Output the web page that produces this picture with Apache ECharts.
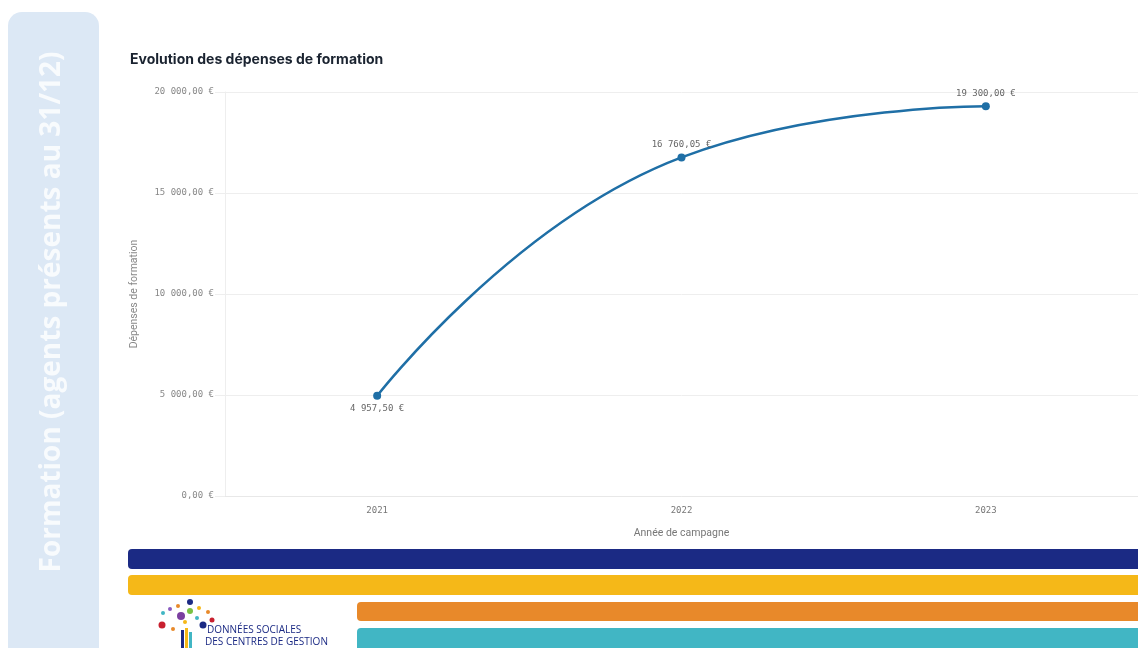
<!DOCTYPE html>
<html><head><meta charset="utf-8">
<script src="https://cdn.jsdelivr.net/npm/echarts@6/dist/echarts.min.js"></script>
<style>html,body{margin:0;padding:0;background:#fff}#c{width:1138px;height:648px}</style>
</head><body><div id="c"></div>
<script>
const categories = ['2021', '2022', '2023'];
const depenses = [4957.50, 16760.05, 19300.00];
const yTicks = [0, 5000, 10000, 15000, 20000];
const chartTitle = 'Evolution des dépenses de formation';
const yName = 'Dépenses de formation';
const xName = 'Année de campagne';
const panelText = 'Formation (agents présents au 31/12)';

function fmt(v) {
  const s = v.toFixed(2).split('.');
  const int = s[0].replace(/\B(?=(\d{3})+(?!\d))/g, '\u202f');
  return int + ',' + s[1] + '\u202f€';
}
const mono = 'DejaVu Sans Mono';
const chart = echarts.init(document.getElementById('c'));

const dots = [
  [190,602,3,'#1b2a84'],[178,606,2,'#e8892a'],[170,609,2,'#8a5cc0'],[163,613,2,'#41b6c4'],
  [181,616,4,'#7b3fa0'],[190,611,3,'#7ac143'],[199,608,2,'#f5b818'],[208,612,2,'#e8892a'],
  [197,618,2,'#41b6c4'],[212,620,2.5,'#c8202f'],[203,625,3.5,'#1b2a84'],[162,625,3.5,'#c8202f'],
  [173,629,2,'#e8892a'],[185,622,2,'#f5b818']
];
const logo = dots.map(d => ({type:'circle', shape:{cx:d[0], cy:d[1], r:d[2]}, style:{fill:d[3]}}));
logo.push(
  {type:'rect', shape:{x:181, y:630, width:3, height:20}, style:{fill:'#1b2a84'}},
  {type:'rect', shape:{x:185, y:628, width:3, height:22}, style:{fill:'#f5b818'}},
  {type:'rect', shape:{x:189, y:632, width:3, height:18}, style:{fill:'#41b6c4'}},
  {type:'text', style:{x:207, y:630, text:'DONNÉES SOCIALES', font:'10px "Open Sans"', fill:'#1b2a84', textVerticalAlign:'middle'}},
  {type:'text', style:{x:205, y:642, text:'DES CENTRES DE GESTION', font:'10px "Open Sans"', fill:'#1b2a84', textVerticalAlign:'middle'}}
);

chart.setOption({
  animation: false,
  title: {
    text: chartTitle, left: 125, top: 48,
    textStyle: {fontFamily: 'Inter', fontSize: 14, fontWeight: 'bold', color: '#1a2330'}
  },
  grid: {left: 225, right: -5, top: 92, bottom: 152, containLabel: false},
  xAxis: {
    type: 'category', data: categories, boundaryGap: true,
    name: xName, nameLocation: 'middle', nameGap: 32,
    nameTextStyle: {fontFamily: 'Roboto', fontSize: 10.5, color: '#777'},
    axisLine: {lineStyle: {color: '#e8e8e8'}},
    axisTick: {show: false},
    axisLabel: {fontFamily: mono, fontSize: 9, color: '#777', margin: 10}
  },
  yAxis: {
    type: 'value', min: 0, max: 20000, interval: 5000,
    name: yName, nameLocation: 'middle', nameGap: 85,
    nameTextStyle: {fontFamily: 'Roboto', fontSize: 10.5, color: '#888'},
    axisLine: {show: true, lineStyle: {color: '#eeeeee'}},
    axisTick: {show: true, length: 10, lineStyle: {color: '#eeeeee'}},
    splitLine: {lineStyle: {color: '#eeeeee'}},
    axisLabel: {fontFamily: mono, fontSize: 9, color: '#888', margin: 11,
      formatter: v => yTicks.includes(v) ? fmt(v) : ''}
  },
  series: [{
    type: 'line', smooth: 0.5,
    symbol: 'circle', symbolSize: 8,
    lineStyle: {color: '#1f6fa6', width: 2.5},
    itemStyle: {color: '#1f6fa6'},
    label: {show: true, fontFamily: mono, fontSize: 9, color: '#666',
      formatter: p => fmt(p.value),
      position: 'top', distance: 4},
    data: depenses.map((v, i) => ({value: v, label: {position: i === 0 ? 'bottom' : 'top'}}))
  }],
  graphic: [
    {type:'rect', shape:{x:8, y:12, width:91, height:660, r:14}, style:{fill:'#dce8f5'}, z:-1},
    {type:'text', x:52, y:312, rotation: Math.PI/2,
      style:{text: panelText, font:'bold 28px "Open Sans"', fill:'rgba(255,255,255,0.8)', textAlign:'center', textVerticalAlign:'middle'}},
    {type:'rect', shape:{x:128, y:549, width:1020, height:20, r:4}, style:{fill:'#1b2a84'}},
    {type:'rect', shape:{x:128, y:575, width:1020, height:20, r:4}, style:{fill:'#f5b818'}},
    {type:'rect', shape:{x:357, y:602, width:800, height:19, r:4}, style:{fill:'#e8892a'}},
    {type:'rect', shape:{x:357, y:628, width:800, height:26, r:4}, style:{fill:'#41b6c4'}}
  ].concat(logo)
});
</script></body></html>
